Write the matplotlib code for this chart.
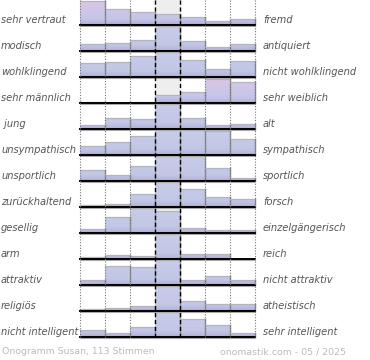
import numpy as np
import matplotlib.pyplot as plt
from matplotlib.colors import LinearSegmentedColormap
from matplotlib.patches import Polygon, Rectangle

left_labels = ["sehr vertraut", "modisch", "wohlklingend", "sehr männlich", " jung",
               "unsympathisch", "unsportlich", "zurückhaltend", "gesellig", "arm",
               "attraktiv", "religiös", "nicht intelligent"]
right_labels = ["fremd", "antiquiert", "nicht wohlklingend", "sehr weiblich", "alt",
                "sympathisch", "sportlich", "forsch", "einzelgängerisch", "reich",
                "nicht attraktiv", "atheistisch", "sehr intelligent"]

# bar height per bin, as share of the row height (1.0 = full row)
bar_heights = [
    [0.96, 0.64, 0.53, 0.43, 0.31, 0.17, 0.25],
    [0.27, 0.33, 0.43, 1.00, 0.41, 0.17, 0.27],
    [0.55, 0.61, 0.85, 1.00, 0.67, 0.31, 0.65],
    [0.05, 0.00, 0.05, 0.31, 0.45, 0.96, 0.85],
    [0.16, 0.45, 0.41, 1.00, 0.45, 0.16, 0.21],
    [0.37, 0.53, 0.75, 1.00, 1.00, 0.97, 0.65],
    [0.45, 0.25, 0.61, 1.00, 1.00, 0.53, 0.12],
    [0.08, 0.12, 0.53, 1.00, 0.73, 0.41, 0.33],
    [0.17, 0.65, 1.00, 0.88, 0.20, 0.13, 0.13],
    [0.08, 0.16, 0.11, 1.00, 0.21, 0.19, 0.00],
    [0.20, 0.77, 0.73, 1.00, 0.20, 0.37, 0.20],
    [0.07, 0.13, 0.21, 1.00, 0.41, 0.27, 0.29],
    [0.28, 0.17, 0.39, 1.00, 0.71, 0.47, 0.15],
]
# rows drawn with the pink-topped gradient
pink_rows = [0, 3]

footer_left = "Onogramm Susan, 113 Stimmen"
footer_right = "onomastik.com - 05 / 2025"

W, H = 370, 360
x0 = 80        # left edge of the grid (px)
cw = 25        # column width
first_base = 25
row_pitch = 26
row_h = 25
n_bins = 7
grid_bottom = first_base + row_pitch * (len(bar_heights) - 1) + 1

pink_cmap = LinearSegmentedColormap.from_list(
    "pink", [(0.0, "#dcc6e6"), (0.45, "#cdc7e8"), (0.8, "#c2c5e6"),
             (0.92, "#b8b6dd"), (1.0, "#a89ccb")])
blue_cmap = LinearSegmentedColormap.from_list(
    "blue", [(0.0, "#c8cce9"), (0.75, "#c2c7e6"), (0.92, "#b9b9de"),
             (1.0, "#a89ccb")])

fig = plt.figure(figsize=(W / 100, H / 100), dpi=100)
ax = fig.add_axes([0, 0, 1, 1])
ax.set_xlim(0, W)
ax.set_ylim(H, 0)
ax.axis("off")

# centre column background
ax.add_patch(Rectangle((x0 + 3 * cw, 0), cw, grid_bottom, color="#eeeeee", zorder=0))

gradient = np.linspace(0, 1, 100).reshape(-1, 1)

for i, heights in enumerate(bar_heights):
    base = first_base + i * row_pitch
    verts = [(x0, base)]
    for j, h in enumerate(heights):
        top = base - h * row_h
        verts += [(x0 + j * cw, top), (x0 + (j + 1) * cw, top)]
    verts.append((x0 + n_bins * cw, base))
    poly = Polygon(verts, closed=True, facecolor="none", edgecolor="none")
    ax.add_patch(poly)
    cmap = pink_cmap if i in pink_rows else blue_cmap
    im = ax.imshow(gradient, cmap=cmap, aspect="auto", interpolation="bilinear",
                   extent=(x0, x0 + n_bins * cw, base, base - row_h), zorder=1)
    im.set_clip_path(poly)

    for j, h in enumerate(heights):
        if h <= 0:
            continue
        top = base - h * row_h
        xl, xr = x0 + j * cw, x0 + (j + 1) * cw
        ax.plot([xl, xr], [top, top], color="#b4b4c0", lw=0.9, zorder=2)
        ax.plot([xr, xr], [top, base], color="#8e8e8e", lw=1.0, zorder=2)

    # baseline with soft shadow
    ax.plot([x0, x0 + n_bins * cw], [base + 1.2, base + 1.2], color="#aaaaaa", lw=0.8, zorder=3)
    ax.plot([x0, x0 + n_bins * cw], [base, base], color="black", lw=1.4, zorder=4)

    ax.text(1, base - 5, left_labels[i], ha="left", va="center", fontsize=7.1,
            style="italic", color="#555555")
    ax.text(263, base - 5, right_labels[i], ha="left", va="center", fontsize=7.1,
            style="italic", color="#555555")

# grid lines
for k in [0, 1, 2, 5, 6, 7]:
    ax.plot([x0 + k * cw] * 2, [0, grid_bottom], color="#777777", lw=0.8,
            linestyle=(0, (1, 1.5)), zorder=5)
for k in [3, 4]:
    ax.plot([x0 + k * cw] * 2, [0, grid_bottom], color="black", lw=1.0,
            linestyle=(0, (3, 2)), zorder=5)

ax.text(2, 352, footer_left, ha="left", va="center", fontsize=6.75, color="#bbbbbb")
ax.text(220, 352, footer_right, ha="left", va="center", fontsize=6.75, color="#bbbbbb")

fig.savefig("out.png", dpi=100)
